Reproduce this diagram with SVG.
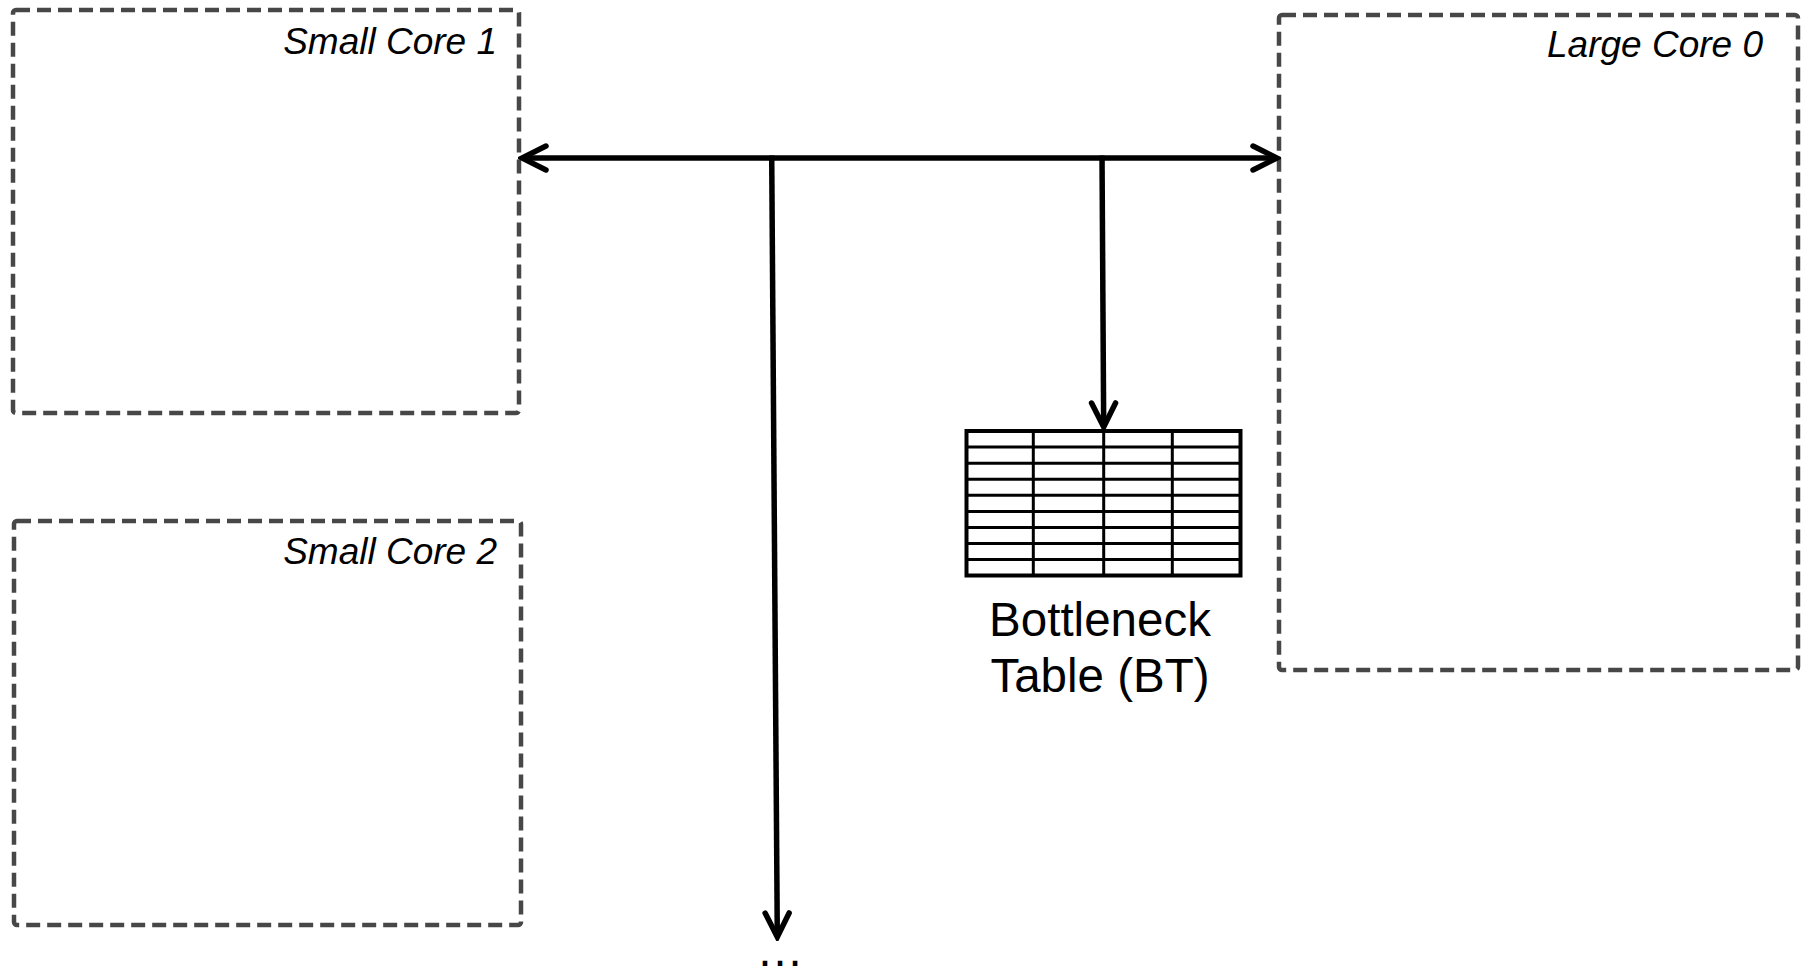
<svg xmlns="http://www.w3.org/2000/svg" width="1806" height="969" viewBox="0 0 1806 969">
  <style>
    .core { fill: none; stroke: #474747; stroke-width: 4.5; stroke-dasharray: 14 7; }
    .lbl { font-family: "Liberation Sans", Arial, sans-serif; font-style: italic; font-size: 37px; fill: #000; text-anchor: end; }
    .bt { font-family: "Liberation Sans", Arial, sans-serif; font-size: 47.5px; fill: #000; text-anchor: middle; }
    .wire { fill: none; stroke: #000; stroke-width: 5.5; stroke-linecap: butt; }
    .grid { stroke: #000; stroke-width: 3; }
  </style>
  <defs>
    <marker id="arr" viewBox="-30 -16 34 32" refX="0" refY="0" markerWidth="34" markerHeight="32" markerUnits="userSpaceOnUse" orient="auto-start-reverse">
      <path d="M -24 -12 L 0 0 L -24 12" fill="none" stroke="#000" stroke-width="5.5" stroke-linecap="round" stroke-linejoin="miter"/>
    </marker>
    <filter id="shadow" x="-10%" y="-200%" width="120%" height="500%">
      <feDropShadow dx="0" dy="3" stdDeviation="3" flood-color="#000" flood-opacity="0.35"/>
    </filter>
  </defs>
  <rect width="1806" height="969" fill="#fff"/>

  <g id="small-core-1">
    <rect class="core" x="13" y="10" width="506" height="403" rx="3"/>
    <text class="lbl" x="497" y="54">Small Core 1</text>
  </g>
  <g id="small-core-2">
    <rect class="core" x="14" y="521" width="507" height="404" rx="3"/>
    <text class="lbl" x="497" y="564">Small Core 2</text>
  </g>
  <g id="large-core-0">
    <rect class="core" x="1279" y="15" width="519" height="655" rx="3"/>
    <text class="lbl" x="1763" y="57">Large Core 0</text>
  </g>

  <g id="bottleneck-table">
    <rect x="966.5" y="431" width="274" height="144.5" fill="#fff" stroke="none"/>
    <g class="grid">
      <line x1="966.5" y1="447.1" x2="1240.5" y2="447.1"/>
      <line x1="966.5" y1="463.2" x2="1240.5" y2="463.2"/>
      <line x1="966.5" y1="479.2" x2="1240.5" y2="479.2"/>
      <line x1="966.5" y1="495.3" x2="1240.5" y2="495.3"/>
      <line x1="966.5" y1="511.4" x2="1240.5" y2="511.4"/>
      <line x1="966.5" y1="527.5" x2="1240.5" y2="527.5"/>
      <line x1="966.5" y1="543.5" x2="1240.5" y2="543.5"/>
      <line x1="966.5" y1="559.6" x2="1240.5" y2="559.6"/>
      <line x1="1033.3" y1="431" x2="1033.3" y2="575.5"/>
      <line x1="1103.7" y1="431" x2="1103.7" y2="575.5"/>
      <line x1="1172.3" y1="431" x2="1172.3" y2="575.5"/>
    </g>
    <rect x="966.5" y="431" width="274" height="144.5" fill="none" stroke="#000" stroke-width="4"/>
    <text class="bt" x="1100" y="636">Bottleneck</text>
    <text class="bt" x="1100" y="692">Table (BT)</text>
  </g>

  <g id="connectors">
    <line class="wire" x1="522" y1="158" x2="1277" y2="158" marker-start="url(#arr)" marker-end="url(#arr)"/>
    <line class="wire" x1="771.7" y1="155.5" x2="777.3" y2="937" marker-end="url(#arr)"/>
    <line class="wire" x1="1102" y1="155.5" x2="1103.7" y2="427" marker-end="url(#arr)"/>
    <line class="wire" x1="775.4" y1="673" x2="523" y2="673" marker-end="url(#arr)" filter="url(#shadow)" stroke-width="5"/>
  </g>

  <g id="ellipsis">
    <text class="bt" x="780" y="966" font-size="50">…</text>
  </g>
</svg>
